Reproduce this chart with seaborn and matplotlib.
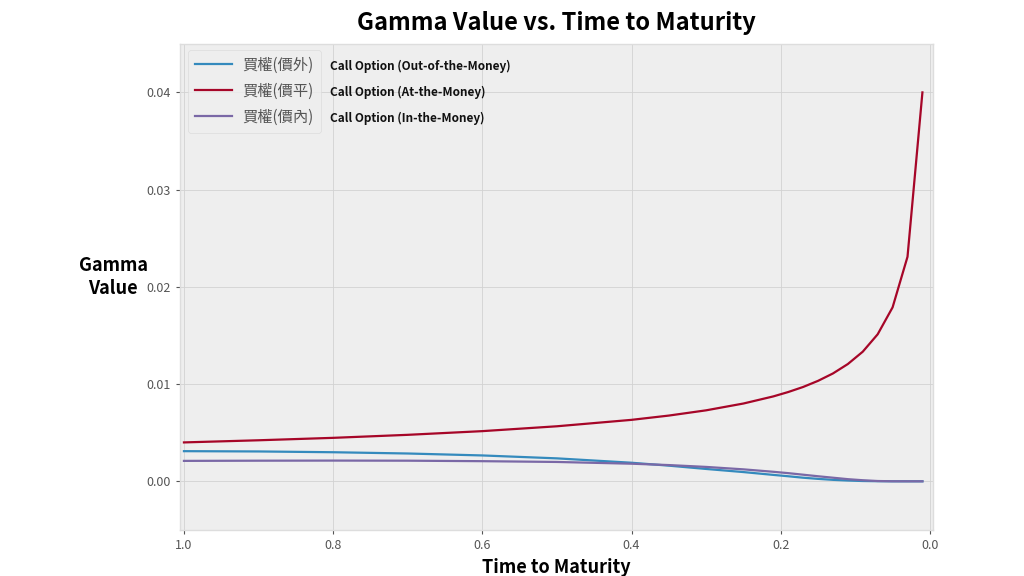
import matplotlib
matplotlib.use("Agg")
import matplotlib.pyplot as plt
import seaborn as sns
import pandas as pd

# ---- data ----
time_to_maturity = [1.0, 0.9, 0.8, 0.7, 0.6, 0.5, 0.4, 0.35, 0.3, 0.25, 0.21, 0.19,
                    0.17, 0.15, 0.13, 0.11, 0.09, 0.07, 0.05, 0.03, 0.01]
gamma_otm = [0.00310, 0.00307, 0.00299, 0.00286, 0.00266, 0.00236, 0.00191, 0.00161,
             0.00127, 0.00095, 0.00066, 0.00052, 0.00037, 0.00025, 0.00015, 0.00008,
             0.00003, 0.00001, 0.0, 0.0, 0.0]
gamma_atm = [0.00400, 0.00422, 0.00447, 0.00478, 0.00516, 0.00566, 0.00632, 0.00676,
             0.00730, 0.00800, 0.00873, 0.00918, 0.00970, 0.01033, 0.01109, 0.01206,
             0.01333, 0.01512, 0.01789, 0.02309, 0.04000]
gamma_itm = [0.00210, 0.00212, 0.00213, 0.00212, 0.00207, 0.00199, 0.00181, 0.00167,
             0.00148, 0.00123, 0.00098, 0.00084, 0.00068, 0.00052, 0.00037, 0.00022,
             0.00011, 0.00003, 0.000004, 0.0, 0.0]
series_cn = ["買權(價外)", "買權(價平)", "買權(價內)"]
series_en = ["Call Option (Out-of-the-Money)", "Call Option (At-the-Money)",
             "Call Option (In-the-Money)"]
y_ticks = [0.00, 0.01, 0.02, 0.03, 0.04]
x_ticks = [1.0, 0.8, 0.6, 0.4, 0.2, 0.0]

plt.style.use("bmh")
plt.rcParams["font.family"] = ["Noto Sans CJK TC", "DejaVu Sans"]

rows = []
for name, vals in zip(series_cn, [gamma_otm, gamma_atm, gamma_itm]):
    for t, g in zip(time_to_maturity, vals):
        rows.append({"T": t, "Gamma": g, "Option": name})
df = pd.DataFrame(rows)

colors = ["#348ABD", "#A60628", "#7A68A6"]

fig = plt.figure(figsize=(10.24, 5.76), dpi=100)
fig.patch.set_facecolor("white")
ax = fig.add_axes([0.176, 0.080, 0.735, 0.844])

sns.lineplot(data=df, x="T", y="Gamma", hue="Option", hue_order=series_cn,
             palette=colors, linewidth=1.6, ax=ax)

ax.set_xlim(1.005, -0.004)
ax.set_ylim(-0.005, 0.045)
ax.set_xticks(x_ticks)
ax.set_xticklabels([f"{v:.1f}" for v in x_ticks])
ax.set_yticks(y_ticks)
ax.set_yticklabels([f"{v:.2f}" for v in y_ticks])
ax.tick_params(axis="both", labelsize=9, colors="#555555", length=3,
               direction="out", width=0.8)
ax.tick_params(axis="x", bottom=True)
ax.tick_params(axis="y", left=True)
ax.set_facecolor("#eeeeee")
ax.grid(True, color="#d2d2d2", linestyle="-", linewidth=0.6)
for sp in ax.spines.values():
    sp.set_color("#dddddd")
    sp.set_linewidth(1.0)

ax.set_xlabel("Time to Maturity", fontsize=13, fontweight="bold", color="black",
              labelpad=4)
ax.set_ylabel("Gamma\nValue", fontsize=13, fontweight="bold", color="black",
              rotation=0, va="center", ha="center", linespacing=1.25)
ax.yaxis.set_label_coords(-0.089, 0.52)
ax.set_title("Gamma Value vs. Time to Maturity", fontsize=17, fontweight="bold",
             color="black", pad=10)

leg = ax.legend(loc="upper left", fontsize=11, frameon=True, labelspacing=0.6,
                borderpad=0.45, handlelength=2.4, handletextpad=0.7,
                borderaxespad=0.0, bbox_to_anchor=(0.0106, 0.988))
leg.get_frame().set_facecolor("#eeeeee")
leg.get_frame().set_edgecolor("#d8d8d8")
for t in leg.get_texts():
    t.set_color("#555555")

for i, txt in enumerate(series_en):
    fig.text(0.322, 1 - (66 + 26 * i) / 576, txt, fontsize=8.5, fontweight="bold",
             color="#111111", va="center", ha="left")

fig.savefig("out.png", dpi=100, facecolor="white")
